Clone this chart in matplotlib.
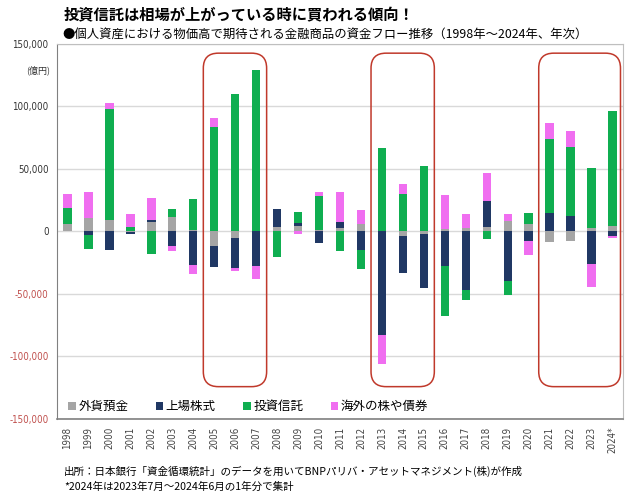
import matplotlib
matplotlib.use("Agg")
import matplotlib.pyplot as plt
import numpy as np
from matplotlib.patches import FancyBboxPatch

plt.rcParams['font.family'] = ['Noto Sans CJK JP', 'DejaVu Sans']

# データ（億円）
years = ['1998', '1999', '2000', '2001', '2002', '2003', '2004', '2005', '2006',
         '2007', '2008', '2009', '2010', '2011', '2012', '2013', '2014', '2015',
         '2016', '2017', '2018', '2019', '2020', '2021', '2022', '2023', '2024*']

gaika = [5500, 10600, 9000, -800, 7700, 11200, 1000, -11500, -5600,
         0, 3000, 4200, 1000, 2400, 6000, 0, -4000, -2500,
         1600, 2400, 3700, 8000, 5800, -8700, -7500, 2600, 4200]
kabu = [0, -3200, -14700, -1800, 1600, -11500, -27300, -17600, -24000,
        -28000, 15000, 2700, -9500, 4800, -15000, -83000, -29600, -43000,
        -28300, -47500, 20800, -40000, -7500, 14400, 12200, -26400, -3700]
toshin = [13000, -10700, 88600, 3400, -18400, 6400, 24800, 83400, 109800,
          129000, -20500, 8300, 27500, -15700, -15500, 66400, 29800, 52500,
          -40000, -8000, -6400, -11500, 9000, 59600, 55500, 48000, 91800]
kaigai = [11000, 20800, 5300, 10600, 17300, -4000, -6900, 7200, -2600,
          -10400, 0, -2200, 2500, 24000, 11000, -23300, 8000, 0,
          27400, 11400, 22400, 5600, -11500, 12600, 12800, -18400, -1900]

series_names = ['外貨預金', '上場株式', '投資信託', '海外の株や債券']
series_colors = ['#a5a5a5', '#203864', '#0fae50', '#f06ef0']

y_ticks = [150000, 100000, 50000, 0, -50000, -100000, -150000]

# 強調枠（年の範囲）
highlights = [('2005', '2007'), ('2013', '2015'), ('2021', '2024*')]

fig = plt.figure(figsize=(6.3, 4.96), dpi=100)
ax = fig.add_axes([57 / 630, 1 - 418.5 / 496, 566 / 630, 374.7 / 496])

x = np.arange(len(years))
pos_bottom = np.zeros(len(years))
neg_bottom = np.zeros(len(years))
for vals, name, col in zip([gaika, kabu, toshin, kaigai], series_names, series_colors):
    v = np.array(vals, dtype=float)
    pos = np.where(v > 0, v, 0)
    neg = np.where(v < 0, v, 0)
    ax.bar(x, pos, 0.4, bottom=pos_bottom, color=col, label=name, zorder=3)
    ax.bar(x, neg, 0.4, bottom=neg_bottom, color=col, zorder=3)
    pos_bottom += pos
    neg_bottom += neg

ax.set_xlim(-0.5, len(years) - 0.5)
ax.set_ylim(-150000, 150000)
ax.set_yticks(y_ticks)
ax.set_yticklabels(['{:,}'.format(t) for t in y_ticks], fontsize=7,
                   family=['DejaVu Sans'], stretch='condensed')
for lab, t in zip(ax.get_yticklabels(), y_ticks):
    lab.set_color('#c0504d' if t < 0 else '#333333')
ax.set_xticks(x)
ax.set_xticklabels(years, rotation=90, fontsize=7, color='#444444',
                   family=['DejaVu Sans'], stretch='condensed')
ax.tick_params(axis='both', length=0, pad=6)
ax.yaxis.grid(True, color='#d9d9d9', lw=1, zorder=0)

for s in ['top', 'right']:
    ax.spines[s].set_color('#bfbfbf')
ax.spines['left'].set_color('#808080')
ax.spines['bottom'].set_color('#808080')
ax.spines['bottom'].set_linewidth(1.2)

# 角丸の赤枠
px_x = 566 / len(years)          # 1単位あたりのピクセル
px_y = 374.7 / 300000
r = 15 / px_x
aspect = (15 / px_y) / r
for a, b in highlights:
    i0 = years.index(a)
    i1 = years.index(b)
    x0 = i0 - 0.52
    x1 = i1 + 0.5
    if b == '2024*':
        x1 = i1 + 0.38
    y0, y1 = -124500, 142500
    box = FancyBboxPatch((x0, y0), x1 - x0, y1 - y0,
                         boxstyle='round,pad=0,rounding_size={}'.format(r),
                         mutation_aspect=aspect, fill=False,
                         edgecolor='#c0392b', lw=1.1, zorder=5)
    ax.add_patch(box)

leg = ax.legend(loc='lower left', ncol=4, frameon=False, fontsize=9,
                handlelength=0.6, handleheight=0.6, handletextpad=0.2,
                columnspacing=2.2, bbox_to_anchor=(0.0, -0.016))

fig.text(64 / 630, 1 - 15 / 496, '投資信託は相場が上がっている時に買われる傾向！',
         fontsize=11, fontweight='bold', va='center', ha='left')
fig.text(62 / 630, 1 - 34 / 496,
         '●個人資産における物価高で期待される金融商品の資金フロー推移（1998年～2024年、年次）',
         fontsize=8.9, va='center', ha='left')
fig.text(50 / 630, 1 - 70 / 496, '(億円)', fontsize=6.5, va='center', ha='right',
         color='#333333')
fig.text(64 / 630, 1 - 471 / 496,
         '出所：日本銀行「資金循環統計」のデータを用いてBNPパリバ・アセットマネジメント(株)が作成',
         fontsize=7.6, va='center', ha='left')
fig.text(64 / 630, 1 - 487 / 496, '*2024年は2023年7月～2024年6月の1年分で集計',
         fontsize=7.6, va='center', ha='left')

fig.savefig('out.png', dpi=100)
